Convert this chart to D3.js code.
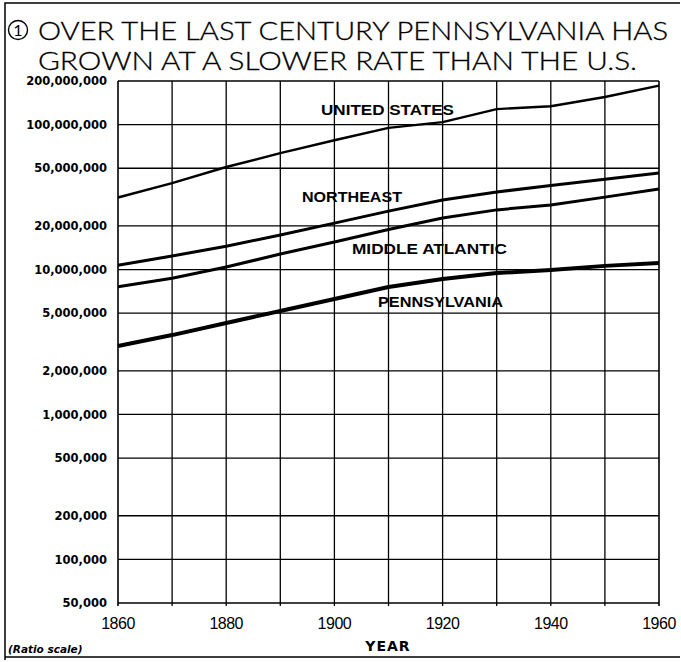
<!DOCTYPE html>
<html><head><meta charset="utf-8">
<script src="https://cdn.jsdelivr.net/npm/d3@7"></script>
<style>body{margin:0;background:#fff}svg{display:block}</style>
</head><body>
<script>
const years = [1860,1870,1880,1890,1900,1910,1920,1930,1940,1950,1960];
const unitedStates = [31.4e6,39.5e6,51e6,63.5e6,78e6,95e6,104e6,128e6,134e6,155e6,186e6];
const northeast = [10.7e6,12.4e6,14.5e6,17.3e6,20.9e6,25.3e6,30.2e6,34.3e6,38e6,42e6,46.4e6];
const middleAtlantic = [7.6e6,8.7e6,10.4e6,12.8e6,15.5e6,18.9e6,22.7e6,25.8e6,27.9e6,31.6e6,36e6];
const pennsylvania = [2.97e6,3.53e6,4.28e6,5.18e6,6.26e6,7.57e6,8.6e6,9.46e6,9.93e6,10.6e6,11.1e6];
const yTicks = [50000,100000,200000,500000,1000000,2000000,5000000,10000000,20000000,50000000,100000000,200000000];
const xTickLabels = [1860,1880,1900,1920,1940,1960];
const seriesNames = ["UNITED STATES","NORTHEAST","MIDDLE ATLANTIC","PENNSYLVANIA"];
const titleLines = ["OVER THE LAST CENTURY PENNSYLVANIA HAS","GROWN AT A SLOWER RATE THAN THE U.S."];

const W=681,H=662;
const svg=d3.select("body").append("svg").attr("width",W).attr("height",H);
const x=d3.scaleLinear().domain([1860,1960]).range([118,659]);
const y=d3.scaleLog().domain([50000,200000000]).range([603,81]);

// outer frame
svg.append("path").attr("d","M5,660 L5,3 L680,3 M5,657 L680,657").attr("fill","none").attr("stroke","#000").attr("stroke-width",1.5);

// title
svg.append("circle").attr("cx",18).attr("cy",30).attr("r",9.5).attr("fill","none").attr("stroke","#000").attr("stroke-width",1.4);
svg.append("text").attr("x",18).attr("y",36).attr("text-anchor","middle").attr("font-family","Lato, 'DejaVu Sans', sans-serif").attr("font-weight",400).attr("font-size",16).text("1");
titleLines.forEach((t,i)=>{
  svg.append("text").attr("x",38).attr("y",[40,70][i])
    .attr("font-family","Lato, 'DejaVu Sans', sans-serif").attr("font-weight",300).attr("font-size",25)
    .attr("stroke","#000").attr("stroke-width",0.3)
    .attr("textLength",[630,599][i]).attr("lengthAdjust","spacingAndGlyphs").text(t);
});

// grid
const g=svg.append("g");
years.forEach(yr=>{
  g.append("line").attr("x1",x(yr)).attr("x2",x(yr)).attr("y1",y(200000000)).attr("y2",y(50000)+3)
   .attr("stroke","#000").attr("stroke-width",yr===1860||yr===1960?1.6:1.3);
});
yTicks.forEach(v=>{
  g.append("line").attr("x1",x(1860)).attr("x2",x(1960)).attr("y1",y(v)).attr("y2",y(v))
   .attr("stroke","#000").attr("stroke-width",1.3);
});

// y tick labels
const fmt=d3.format(",");
yTicks.forEach(v=>{
  svg.append("text").attr("x",107).attr("y",y(v)).attr("dy","0.36em").attr("text-anchor","end")
   .attr("font-family","'DejaVu Sans', sans-serif").attr("font-weight","bold").attr("font-size",11.5).text(fmt(v));
});
// x tick labels
xTickLabels.forEach(v=>{
  svg.append("text").attr("x",x(v)).attr("y",629).attr("text-anchor","middle")
   .attr("font-family","'Liberation Sans', sans-serif").attr("font-size",16).attr("letter-spacing",-0.5).text(v);
});
svg.append("text").attr("x",388).attr("y",651).attr("text-anchor","middle")
  .attr("font-family","'DejaVu Sans', sans-serif").attr("font-weight","bold").attr("font-size",14).attr("letter-spacing",1).text("YEAR");
svg.append("text").attr("x",8).attr("y",653)
  .attr("font-family","'DejaVu Sans', sans-serif").attr("font-weight","bold").attr("font-style","italic").attr("font-size",10.5).text("(Ratio scale)");

// lines
const line=d3.line().x((d,i)=>x(years[i])).y(d=>y(d));
const series=[unitedStates,northeast,middleAtlantic,pennsylvania];
const widths=[2.4,3,3,4];
series.forEach((s,i)=>{
  svg.append("path").attr("d",line(s)).attr("fill","none").attr("stroke","#000").attr("stroke-width",widths[i]).attr("stroke-linejoin","round");
});

// series labels
const labelPos=[[321,115,133],[302,202,100],[352,254,155],[378,307,125]];
seriesNames.forEach((n,i)=>{
  const [lx,ly,lw]=labelPos[i];
  svg.append("text").attr("x",lx).attr("y",ly).attr("font-family","'Liberation Sans', Arial, sans-serif")
   .attr("font-weight","bold").attr("font-size",14).attr("textLength",lw).attr("lengthAdjust","spacingAndGlyphs").text(n);
});
</script>
</body></html>
